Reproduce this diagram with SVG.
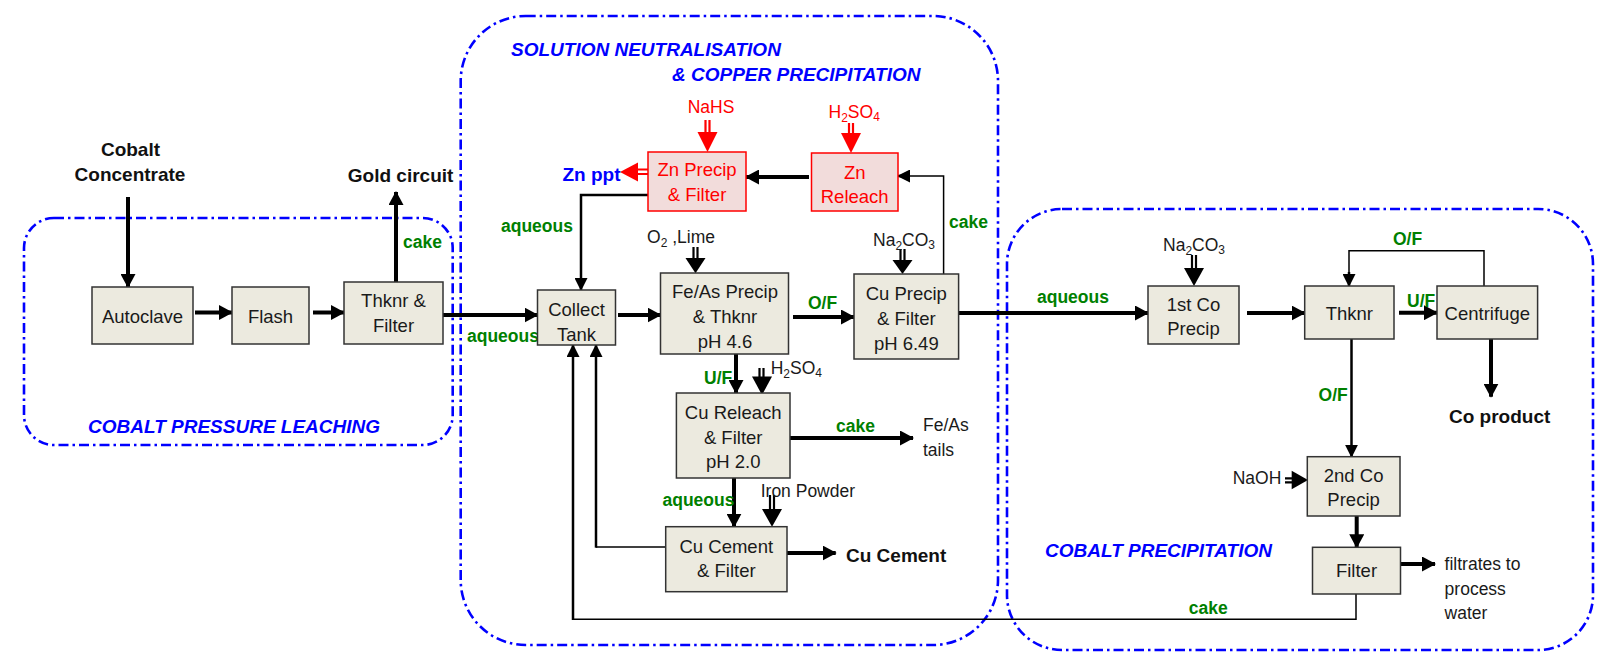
<svg xmlns="http://www.w3.org/2000/svg" width="1601" height="666" viewBox="0 0 1601 666">
<style>
.box{fill:#ECEADF;stroke:#333;stroke-width:1.5}
.rbox{fill:#F2DCDB;stroke:#FF0000;stroke-width:1.5}
.bx{font-family:"Liberation Sans",Arial,sans-serif;font-size:18.5px;fill:#1a1a1a;text-anchor:middle}
.lb{font-family:"Liberation Sans",Arial,sans-serif;font-size:19px;font-weight:bold;fill:#111}
.gr{font-family:"Liberation Sans",Arial,sans-serif;font-size:17.5px;font-weight:bold;fill:#008000}
.ti{font-family:"Liberation Sans",Arial,sans-serif;font-size:19px;font-weight:bold;font-style:italic;fill:#0000FF}
.rg{font-family:"Liberation Sans",Arial,sans-serif;font-size:17.5px;fill:#1a1a1a}
text.rt{fill:#FF0000}
.zone{fill:none;stroke:#0000FF;stroke-width:2.6;stroke-dasharray:10 4 2.5 4}
.thick{fill:none;stroke:#000;stroke-width:4}
.med{fill:none;stroke:#000;stroke-width:2.5}
.thin{fill:none;stroke:#000;stroke-width:1.5}
.dl{fill:none;stroke:#000;stroke-width:2.2}
.dlr{fill:none;stroke:#FF0000;stroke-width:2.2}
.hd{fill:#000}
.hdr{fill:#FF0000}
</style>
<defs>
<marker id="ah" markerUnits="userSpaceOnUse" markerWidth="14" markerHeight="15" refX="13" refY="7.5" orient="auto">
<path d="M0,0 L14,7.5 L0,15 z" fill="#000"/>
</marker>
<marker id="am" markerUnits="userSpaceOnUse" markerWidth="13" markerHeight="13" refX="12" refY="6.5" orient="auto">
<path d="M0,0 L13,6.5 L0,13 z" fill="#000"/>
</marker>
</defs>

<g id="zones">
<rect class="zone" x="24" y="218" width="428.7" height="227" rx="30" ry="30"/>
<rect class="zone" x="460.7" y="16" width="537.3" height="629" rx="65" ry="65"/>
<rect class="zone" x="1007" y="209" width="586" height="441" rx="55" ry="55"/>
<text class="ti" x="88" y="433">COBALT PRESSURE LEACHING</text>
<text class="ti" x="511" y="56">SOLUTION NEUTRALISATION</text>
<text class="ti" x="672" y="81">&amp; COPPER PRECIPITATION</text>
<text class="ti" x="1045" y="557">COBALT PRECIPITATION</text>
</g>

<g id="connectors">
<path class="thick" marker-end="url(#ah)" d="M128,197 V287"/>
<path class="thick" marker-end="url(#ah)" d="M396,282 V192"/>
<path class="thick" marker-end="url(#ah)" d="M195,312.5 H232"/>
<path class="thick" marker-end="url(#ah)" d="M313,312.5 H344"/>
<path class="thick" marker-end="url(#ah)" d="M443,315 H537.5"/>
<path class="thick" marker-end="url(#ah)" d="M618,315 H660.5"/>
<path class="thick" marker-end="url(#ah)" d="M793,317 H854"/>
<path class="thick" marker-end="url(#ah)" d="M809,177 H746"/>
<path class="thick" marker-end="url(#ah)" d="M736,354 V393"/>
<path class="thick" marker-end="url(#ah)" d="M734,478 V526.7"/>
<path class="thick" marker-end="url(#ah)" d="M790,438 H913"/>
<path class="thick" marker-end="url(#ah)" d="M787,553 H835.7"/>
<path class="thick" marker-end="url(#ah)" d="M958.6,313 H1148"/>
<path class="thick" marker-end="url(#ah)" d="M1247,313 H1304.7"/>
<path class="thick" marker-end="url(#ah)" d="M1399,312.7 H1437"/>
<path class="thick" marker-end="url(#ah)" d="M1491,339 V396.7"/>
<path class="thick" marker-end="url(#ah)" d="M1356.7,516 V547.3"/>
<path class="thick" marker-end="url(#ah)" d="M1400.6,564 H1435"/>
<path class="med" marker-end="url(#am)" d="M648,195 H581 V290"/>
<path class="med" marker-end="url(#am)" d="M1351.5,339 V456.7"/>
<path class="thin" d="M1484,286 V250.7 H1349 V276"/>
<path class="med" marker-end="url(#am)" d="M1349,272 V286"/>
<path class="thin" d="M943.6,274 V176 H908"/>
<path class="med" marker-end="url(#am)" d="M908,176 H898"/>
<path class="thin" d="M665.7,547 H596"/>
<path class="med" marker-end="url(#am)" d="M596,547.7 V345"/>
<path class="thin" d="M1356,594 V619.3 H573"/>
<path class="med" marker-end="url(#am)" d="M573,620 V345"/>
<path class="dlr" d="M705.5,120 V133 M709.5,120 V133"/>
<polygon class="hdr" points="697.5,132 717.5,132 707.5,152"/>
<path class="dlr" d="M849,123 V134 M853,123 V134"/>
<polygon class="hdr" points="841,133 861,133 851,153"/>
<path class="dlr" d="M648,169.5 H637 M648,174 H637"/>
<polygon class="hdr" points="638,162.5 638,181.5 620,172"/>
<path class="dl" d="M693.5,247 V259 M697.5,247 V259"/>
<polygon class="hd" points="685.5,258 705.5,258 695.5,273.3"/>
<path class="dl" d="M900.5,249 V261 M904.5,249 V261"/>
<polygon class="hd" points="892.5,260 912.5,260 902.5,274"/>
<path class="dl" d="M759.5,368 V377.5 M763.5,368 V377.5"/>
<polygon class="hd" points="752,376.5 772,376.5 762,395"/>
<path class="dl" d="M770,495 V510 M774,495 V510"/>
<polygon class="hd" points="762,509 782,509 772,526.7"/>
<path class="dl" d="M1192,255 V269 M1196,255 V269"/>
<polygon class="hd" points="1184,268 1204,268 1194,286"/>
<path class="dl" d="M1285,478.3 H1293 M1285,482.3 H1293"/>
<polygon class="hd" points="1291.7,470.7 1291.7,489.3 1308,480"/>
</g>

<g id="labels">
<text class="lb" x="130.5" y="156" text-anchor="middle">Cobalt</text>
<text class="lb" x="130" y="181" text-anchor="middle">Concentrate</text>
<text class="lb" x="400.6" y="181.7" text-anchor="middle">Gold circuit</text>
<text class="gr" x="403" y="248">cake</text>
<text class="gr" x="467" y="342">aqueous</text>
<text class="gr" x="501" y="232">aqueous</text>
<text class="lb" x="562.5" y="181" style="fill:#0000FF">Zn ppt</text>
<text class="rg rt" x="711" y="113" text-anchor="middle">NaHS</text>
<text class="rg rt" x="828.5" y="118">H<tspan font-size="12" dy="4">2</tspan><tspan dy="-4">SO</tspan><tspan font-size="12" dy="3">4</tspan></text>
<text class="rg" x="647" y="243">O<tspan font-size="12" dy="4">2</tspan><tspan dy="-4"> ,Lime</tspan></text>
<text class="rg" x="873" y="246">Na<tspan font-size="12" dy="4">2</tspan><tspan dy="-4">CO</tspan><tspan font-size="12" dy="3">3</tspan></text>
<text class="gr" x="949" y="228">cake</text>
<text class="gr" x="808" y="309">O/F</text>
<text class="gr" x="704" y="384">U/F</text>
<text class="rg" x="770.7" y="374">H<tspan font-size="12" dy="4">2</tspan><tspan dy="-4">SO</tspan><tspan font-size="12" dy="3">4</tspan></text>
<text class="gr" x="836" y="432">cake</text>
<text class="rg" x="923" y="431">Fe/As</text>
<text class="rg" x="923" y="456">tails</text>
<text class="gr" x="662.5" y="506">aqueous</text>
<text class="rg" x="760.7" y="497">Iron Powder</text>
<text class="lb" x="846" y="562">Cu Cement</text>
<text class="gr" x="1037" y="303">aqueous</text>
<text class="rg" x="1163" y="250.7">Na<tspan font-size="12" dy="4">2</tspan><tspan dy="-4">CO</tspan><tspan font-size="12" dy="3">3</tspan></text>
<text class="gr" x="1393" y="245">O/F</text>
<text class="gr" x="1407" y="306.7">U/F</text>
<text class="gr" x="1318.6" y="400.7">O/F</text>
<text class="lb" x="1449" y="423">Co product</text>
<text class="rg" x="1232.7" y="484">NaOH</text>
<text class="rg" x="1444.6" y="570">filtrates to</text>
<text class="rg" x="1444.6" y="595">process</text>
<text class="rg" x="1444.6" y="619">water</text>
<text class="gr" x="1188.7" y="614">cake</text>
</g>

<g id="autoclave"><rect class="box" x="92" y="287" width="101" height="57"/><text class="bx" x="142.5" y="322.5">Autoclave</text></g>
<g id="flash"><rect class="box" x="232" y="287" width="77" height="57"/><text class="bx" x="270.5" y="322.5">Flash</text></g>
<g id="thknr-filter"><rect class="box" x="344" y="282" width="99" height="62"/><text class="bx" x="393.5" y="306.5">Thknr &amp;</text><text class="bx" x="393.5" y="331.5">Filter</text></g>
<g id="collect-tank"><rect class="box" x="537.5" y="290" width="78" height="55"/><text class="bx" x="576.5" y="316">Collect</text><text class="bx" x="576.5" y="341">Tank</text></g>
<g id="feas-precip"><rect class="box" x="660.5" y="273" width="128" height="81"/><text class="bx" x="725" y="298.3">Fe/As Precip</text><text class="bx" x="725" y="323.3">&amp; Thknr</text><text class="bx" x="725" y="348.3">pH 4.6</text></g>
<g id="cu-precip"><rect class="box" x="854" y="274" width="104.6" height="85"/><text class="bx" x="906.3" y="300">Cu Precip</text><text class="bx" x="906.3" y="325">&amp; Filter</text><text class="bx" x="906.3" y="350">pH 6.49</text></g>
<g id="zn-precip"><rect class="rbox" x="648" y="152" width="98" height="59"/><text class="bx rt" x="697" y="176">Zn Precip</text><text class="bx rt" x="697" y="200.5">&amp; Filter</text></g>
<g id="zn-releach"><rect class="rbox" x="811.5" y="153" width="86.5" height="58"/><text class="bx rt" x="854.7" y="178.7">Zn</text><text class="bx rt" x="854.7" y="202.7">Releach</text></g>
<g id="cu-releach"><rect class="box" x="676.4" y="393" width="113.6" height="85"/><text class="bx" x="733.2" y="419.3">Cu Releach</text><text class="bx" x="733.2" y="444">&amp; Filter</text><text class="bx" x="733.2" y="468.3">pH 2.0</text></g>
<g id="cu-cement"><rect class="box" x="665.7" y="526.7" width="121.3" height="65"/><text class="bx" x="726.3" y="552.7">Cu Cement</text><text class="bx" x="726.3" y="577.3">&amp; Filter</text></g>
<g id="co-precip-1"><rect class="box" x="1148" y="286" width="91" height="58"/><text class="bx" x="1193.5" y="310.7">1st Co</text><text class="bx" x="1193.5" y="335">Precip</text></g>
<g id="thknr"><rect class="box" x="1304.7" y="286" width="89.3" height="53"/><text class="bx" x="1349.3" y="320">Thknr</text></g>
<g id="centrifuge"><rect class="box" x="1437" y="286" width="100.6" height="53"/><text class="bx" x="1487.3" y="320">Centrifuge</text></g>
<g id="co-precip-2"><rect class="box" x="1307.3" y="456.7" width="92.7" height="59.3"/><text class="bx" x="1353.6" y="481.7">2nd Co</text><text class="bx" x="1353.6" y="506">Precip</text></g>
<g id="filter"><rect class="box" x="1312.5" y="547.3" width="88" height="46.7"/><text class="bx" x="1356.5" y="577.3">Filter</text></g>
</svg>
